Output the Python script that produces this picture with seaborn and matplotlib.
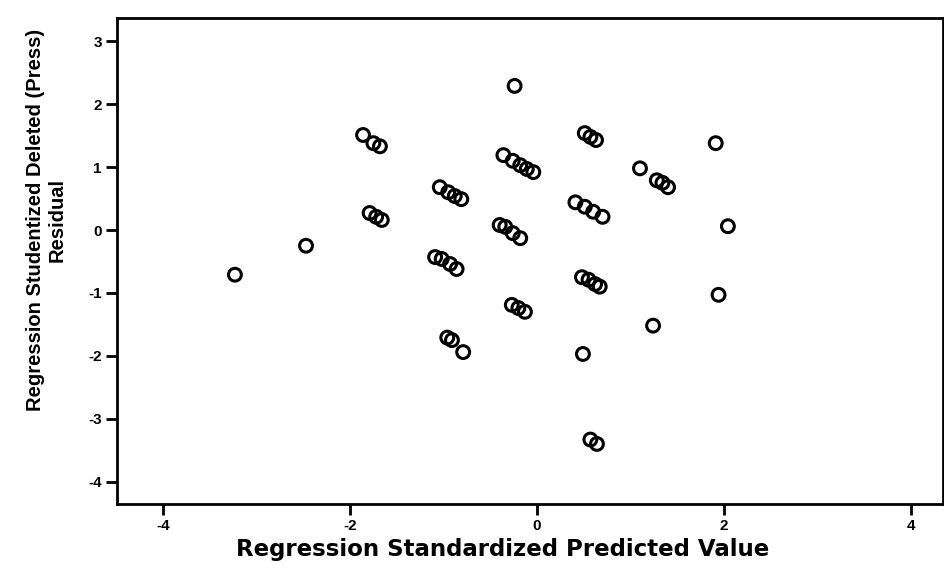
import matplotlib
matplotlib.use("Agg")
import matplotlib.pyplot as plt
import seaborn as sns
import pandas as pd

predicted = [-3.23, -2.47,
             -1.86, -1.75, -1.68,
             -1.79, -1.72, -1.66,
             -1.04, -0.95, -0.88, -0.81,
             -1.09, -1.02, -0.93, -0.86,
             -0.96, -0.91, -0.79,
             -0.24,
             -0.36, -0.26, -0.18, -0.11, -0.04,
             -0.40, -0.34, -0.26, -0.18,
             -0.27, -0.20, -0.13,
             0.51, 0.57, 0.63,
             0.41, 0.51, 0.60, 0.70,
             0.48, 0.55, 0.62, 0.67,
             0.49,
             0.57, 0.64,
             1.10, 1.28, 1.34, 1.40,
             1.91, 2.04, 1.94, 1.24]
residual = [-0.71, -0.25,
            1.51, 1.38, 1.33,
            0.27, 0.21, 0.16,
            0.68, 0.60, 0.54, 0.49,
            -0.43, -0.46, -0.54, -0.62,
            -1.71, -1.75, -1.94,
            2.29,
            1.19, 1.10, 1.03, 0.97, 0.92,
            0.08, 0.05, -0.05, -0.13,
            -1.19, -1.24, -1.30,
            1.54, 1.48, 1.43,
            0.44, 0.37, 0.29, 0.21,
            -0.75, -0.79, -0.86, -0.90,
            -1.97,
            -3.33, -3.40,
            0.98, 0.79, 0.75, 0.68,
            1.38, 0.06, -1.03, -1.52]

x_ticks = [-4, -2, 0, 2, 4]
y_ticks = [-4, -3, -2, -1, 0, 1, 2, 3]
x_label = "Regression Standardized Predicted Value"
y_label = "Regression Studentized Deleted (Press)\nResidual"

df = pd.DataFrame({"pred": predicted, "resid": residual})

sns.set_theme(style="ticks")
plt.rcParams['font.family'] = ['Liberation Sans', 'DejaVu Sans']
plt.rcParams['text.color'] = 'black'
plt.rcParams['axes.labelcolor'] = 'black'
plt.rcParams['xtick.color'] = 'black'
plt.rcParams['ytick.color'] = 'black'

fig = plt.figure(figsize=(9.44, 5.79), dpi=100)
ax = fig.add_axes([0.124, 0.130, 0.875, 0.839])

sns.scatterplot(data=df, x="pred", y="resid", ax=ax, marker="o",
                s=85, facecolors="none", edgecolor="black", linewidth=2.2)

ax.set_xlim(-4.49, 4.34)
ax.set_ylim(-4.35, 3.37)
ax.set_xticks(x_ticks)
ax.set_yticks(y_ticks)
ax.set_xticklabels([str(t) for t in x_ticks], fontsize=11, fontweight="bold")
ax.set_yticklabels([str(t) for t in y_ticks], fontsize=11, fontweight="bold")
ax.tick_params(direction="out", length=8, width=2, color="black", pad=3)
for s in ax.spines.values():
    s.set_linewidth(2)
    s.set_color("black")
ax.set_xlabel(x_label, fontsize=16.5, fontweight="bold",
              family=['DejaVu Sans'])
ax.set_ylabel(y_label, fontsize=14.5, fontweight="bold")
ax.xaxis.set_label_coords(0.467, -0.07)
ax.yaxis.set_label_coords(-0.061, 0.585)

fig.savefig("out.png", dpi=100)
